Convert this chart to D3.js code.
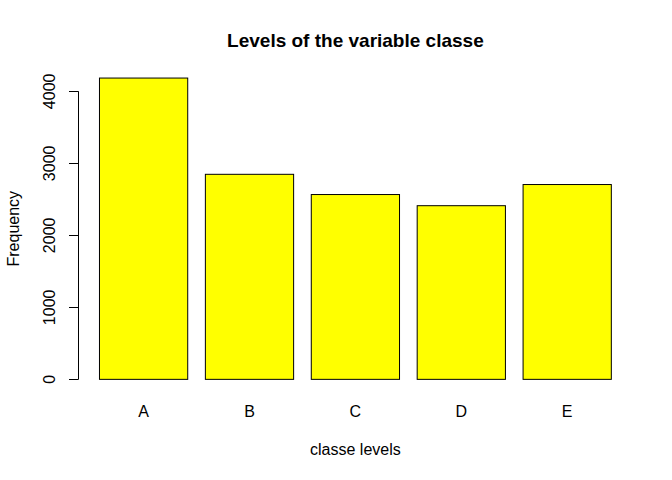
<!DOCTYPE html>
<html>
<head>
<meta charset="utf-8">
<script src="https://d3js.org/d3.v7.min.js"></script>
<style>
  body { margin: 0; background: white; }
  text { font-family: "Liberation Sans", Arial, sans-serif; fill: black; }
</style>
</head>
<body>
<div id="chart"></div>
<script>
// classe counts
levels = ["A", "B", "C", "D", "E"]
counts = [4185, 2848, 2567, 2412, 2706]
yTicks = [0, 1000, 2000, 3000, 4000]

width = 672
height = 480

svg = d3.select('#chart')
  .append('svg')
  .attr('width', width)
  .attr('height', height)

// R barplot: width 1, space 0.2, axes extended by 4%
xScale = d3.scaleLinear()
  .domain([-0.032, 6.232])
  .range([79, 631.8])

ymax = d3.max(counts)
yScale = d3.scaleLinear()
  .domain([-0.04 * ymax, 1.04 * ymax])
  .range([391.4, 66])

svg.selectAll('rect.bar')
  .data(counts)
  .enter().append('rect')
  .attr('class', 'bar')
  .attr('x', (d, i) => xScale(0.2 + 1.2 * i))
  .attr('width', xScale(1) - xScale(0))
  .attr('y', d => yScale(d))
  .attr('height', d => yScale(0) - yScale(d))
  .attr('fill', '#ffff00')
  .attr('stroke', 'black')
  .attr('stroke-width', 1)

// x labels
svg.selectAll('text.xlab')
  .data(levels)
  .enter().append('text')
  .attr('class', 'xlab')
  .attr('x', (d, i) => xScale(0.7 + 1.2 * i))
  .attr('y', 417)
  .attr('text-anchor', 'middle')
  .style('font-size', '16px')
  .text(d => d)

// y axis, R style
yAxis = svg.append('g')
yAxis.append('line')
  .attr('x1', 78.5).attr('x2', 78.5)
  .attr('y1', yScale(yTicks[0])).attr('y2', yScale(yTicks[yTicks.length - 1]))
  .attr('stroke', 'black')
yAxis.selectAll('line.tick')
  .data(yTicks)
  .enter().append('line')
  .attr('class', 'tick')
  .attr('x1', 69).attr('x2', 78.5)
  .attr('y1', d => Math.round(yScale(d)) + 0.5)
  .attr('y2', d => Math.round(yScale(d)) + 0.5)
  .attr('stroke', 'black')
yAxis.selectAll('text')
  .data(yTicks)
  .enter().append('text')
  .attr('transform', d => 'translate(55,' + yScale(d) + ') rotate(-90)')
  .attr('text-anchor', 'middle')
  .style('font-size', '16px')
  .text(d => d)

svg.append('text')
  .attr('transform', 'translate(19,' + (66 + 391.4) / 2 + ') rotate(-90)')
  .attr('text-anchor', 'middle')
  .style('font-size', '16px')
  .text('Frequency')

svg.append('text')
  .attr('x', 355.4)
  .attr('y', 455)
  .attr('text-anchor', 'middle')
  .style('font-size', '16px')
  .text('classe levels')

svg.append('text')
  .attr('x', 355.4)
  .attr('y', 47)
  .attr('text-anchor', 'middle')
  .style('font-size', '19px')
  .style('font-weight', 'bold')
  .text('Levels of the variable classe')
</script>
</body>
</html>
